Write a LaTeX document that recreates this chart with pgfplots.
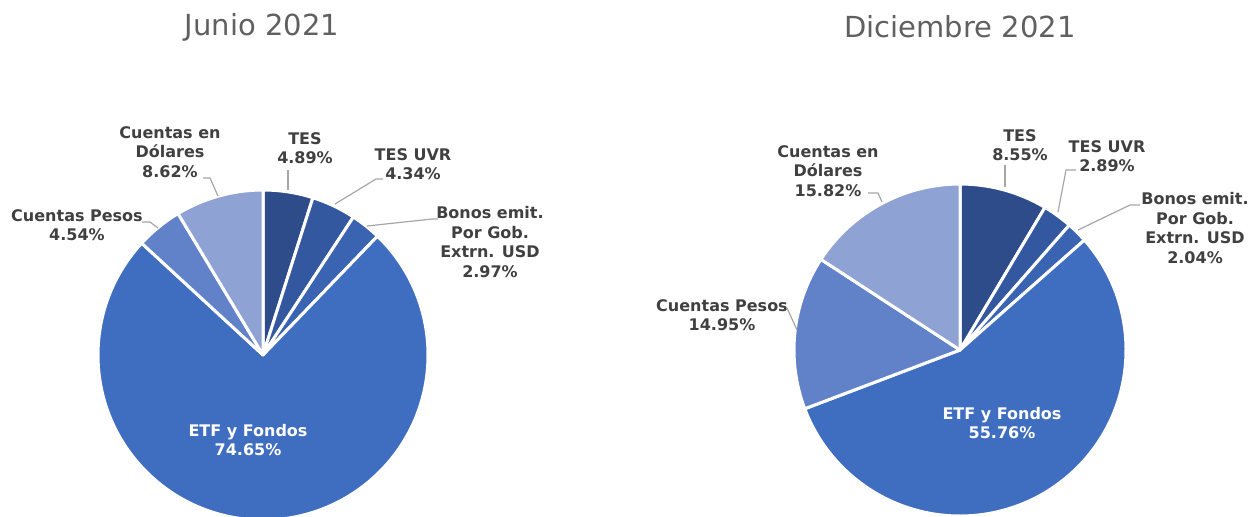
\documentclass[border=0pt]{standalone}
\usepackage{fontspec}
\setmainfont{DejaVu Sans}
\usepackage{pgfplots}
\usepackage{pgfplotstable}
\pgfplotsset{compat=1.18}

\definecolor{cTES}{HTML}{2E4C8A}
\definecolor{cUVR}{HTML}{34589F}
\definecolor{cBON}{HTML}{3A63B2}
\definecolor{cETF}{HTML}{3F6DBF}
\definecolor{cPES}{HTML}{6181C9}
\definecolor{cDOL}{HTML}{8EA3D4}
\definecolor{txt}{HTML}{404040}
\definecolor{ttl}{HTML}{606060}
\definecolor{lead}{HTML}{A6A6A6}

% shares in %, clockwise from 12 o'clock
\pgfplotstableread{
name val col
TES   4.89  cTES
UVR   4.34  cUVR
Bonos 2.97  cBON
ETF   74.65 cETF
Pesos 4.54  cPES
Dol   8.62  cDOL
}\junio

\pgfplotstableread{
name val col
TES   8.55  cTES
UVR   2.89  cUVR
Bonos 2.04  cBON
ETF   55.76 cETF
Pesos 14.95 cPES
Dol   15.82 cDOL
}\diciembre

% #1 table, #2 cx, #3 cy (pixels), #4 radius
\newcommand\drawpie[4]{%
  \pgfplotstablegetrowsof{#1}%
  \pgfmathtruncatemacro\nlast{\pgfplotsretval-1}%
  \gdef\pieacc{90}%
  \foreach \i in {0,...,\nlast}{%
    \pgfplotstablegetelem{\i}{val}\of{#1}\let\pieval\pgfplotsretval
    \pgfplotstablegetelem{\i}{col}\of{#1}\let\piecol\pgfplotsretval
    \pgfmathsetmacro\pieend{\pieacc-3.6*\pieval}%
    \filldraw[fill=\piecol, draw=white, line width=1.5pt, line join=round]
      (axis cs:#2,#3) -- ++(\pieacc:#4)
      arc[start angle=\pieacc, end angle=\pieend, radius=#4] -- cycle;
    \xdef\pieacc{\pieend}%
  }%
}

\tikzset{
  lbl/.style={align=center, text=txt, inner sep=0pt,
    font=\fontsize{8}{9.8}\selectfont\bfseries},
  wlbl/.style={lbl, text=white},
  ldr/.style={draw=lead, line width=0.6pt},
}

\begin{document}
\begin{tikzpicture}
\useasboundingbox (0,0) rectangle (626pt,258pt);
\begin{axis}[
  at={(0,0)}, anchor=south west,
  scale only axis, width=626pt, height=258pt,
  xmin=0, xmax=1252, ymin=0, ymax=516,
  y dir=reverse,
  hide axis,
]
\pgfplotsextra{\drawpie{\junio}{263}{355}{82.5pt}}
\pgfplotsextra{\drawpie{\diciembre}{960}{350}{83pt}}

% titles
\node[text=ttl, font=\fontsize{14.5}{18}\selectfont] at (axis cs:262,27) {Junio 2021};
\node[text=ttl, font=\fontsize{14.5}{18}\selectfont] at (axis cs:960,27) {Diciembre 2021};

% Junio labels
\node[lbl] at (axis cs:170,152) {Cuentas en\\Dólares\\8.62\%};
\node[lbl] at (axis cs:305,148) {TES\\4.89\%};
\node[lbl] at (axis cs:413,164) {TES UVR\\4.34\%};
\node[lbl] at (axis cs:490,242) {Bonos emit.\\Por Gob.\\Extrn. USD\\2.97\%};
\node[lbl] at (axis cs:77,225) {Cuentas Pesos\\4.54\%};
\node[wlbl] at (axis cs:248,440) {ETF y Fondos\\74.65\%};
\draw[ldr] (axis cs:203,178) -- (axis cs:210,178) -- (axis cs:218,196);
\draw[ldr] (axis cs:288,170) -- (axis cs:288,190);
\draw[ldr] (axis cs:383,179) -- (axis cs:376,179) -- (axis cs:335,204);
\draw[ldr] (axis cs:438,219) -- (axis cs:432,219) -- (axis cs:367,226);
\draw[ldr] (axis cs:142,222) -- (axis cs:150,222) -- (axis cs:158,228);

% Diciembre labels
\node[lbl] at (axis cs:828,171) {Cuentas en\\Dólares\\15.82\%};
\node[lbl] at (axis cs:722,315) {Cuentas Pesos\\14.95\%};
\node[lbl] at (axis cs:1020,145) {TES\\8.55\%};
\node[lbl] at (axis cs:1107,156) {TES UVR\\2.89\%};
\node[lbl] at (axis cs:1195,228) {Bonos emit.\\Por Gob.\\Extrn. USD\\2.04\%};
\node[wlbl] at (axis cs:1002,423) {ETF y Fondos\\55.76\%};
\draw[ldr] (axis cs:868,193) -- (axis cs:878,193) -- (axis cs:882,202);
\draw[ldr] (axis cs:787,308) -- (axis cs:797,330);
\draw[ldr] (axis cs:1005,165) -- (axis cs:1005,187);
\draw[ldr] (axis cs:1076,170) -- (axis cs:1066,170) -- (axis cs:1058,212);
\draw[ldr] (axis cs:1140,205) -- (axis cs:1130,205) -- (axis cs:1078,230);
\end{axis}
\end{tikzpicture}
\end{document}
